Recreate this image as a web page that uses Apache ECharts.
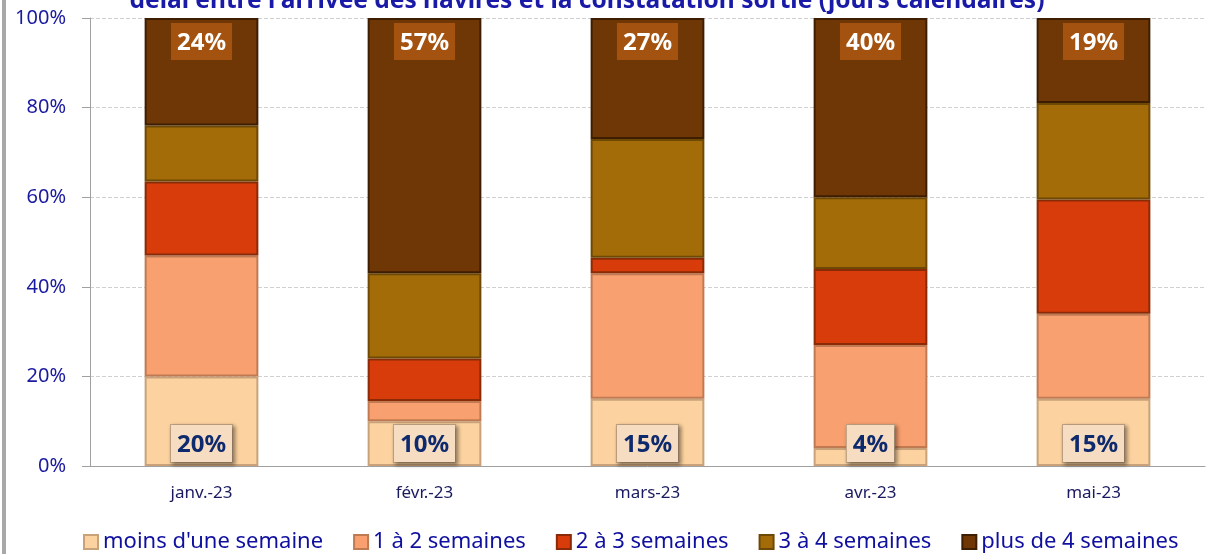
<!DOCTYPE html>
<html>
<head>
<meta charset="utf-8">
<script src="https://cdn.jsdelivr.net/npm/echarts@6/dist/echarts.min.js"></script>
<style>
  html, body { margin: 0; padding: 0; background: #fff; }
  #chart { width: 1208px; height: 554px; }
</style>
</head>
<body>
<div id="chart"></div>
<script>
// mois
var months = ['janv.-23', 'févr.-23', 'mars-23', 'avr.-23', 'mai-23'];
var seriesNames = ['moins d\'une semaine', '1 à 2 semaines', '2 à 3 semaines', '3 à 4 semaines', 'plus de 4 semaines'];
// parts en %
var moinsUneSemaine = [20, 10, 15, 4, 15];
var uneADeux = [27, 4.5, 28, 23, 19];
var deuxATrois = [16.5, 9.5, 3.5, 17, 25.5];
var troisAQuatre = [12.5, 19, 26.5, 16, 21.5];
var plusDeQuatre = [24, 57, 27, 40, 19];
var yTicks = [0, 20, 40, 60, 80, 100];

var colors = ['#FCD3A0', '#F8A070', '#D83C0A', '#A36C08', '#6F3706'];
var borders = ['#C9A27A', '#C07A52', '#8A2A06', '#6E4905', '#3E1E03'];
var allData = [moinsUneSemaine, uneADeux, deuxATrois, troisAQuatre, plusDeQuatre];

var series = [];
for (var i = 0; i < seriesNames.length; i++) {
    var s = {
        name: seriesNames[i],
        type: 'bar',
        stack: 'total',
        barWidth: '51%',
        data: allData[i],
        itemStyle: {
            color: colors[i],
            borderColor: borders[i],
            borderWidth: 2
        },
        label: { show: false }
    };
    if (i === 0) {
        s.label = {
            show: true,
            position: 'insideBottom',
            distance: 4,
            formatter: '{c}%',
            fontFamily: 'Noto Sans',
            fontWeight: 'bold',
            fontSize: 24,
            color: '#0E2A6E',
            backgroundColor: '#F6DCC0',
            borderColor: '#BFA080',
            borderWidth: 1,
            padding: [8, 6, 5, 6],
            shadowColor: 'rgba(0,0,0,0.4)',
            shadowBlur: 4,
            shadowOffsetX: 2,
            shadowOffsetY: 2
        };
    }
    if (i === 4) {
        s.label = {
            show: true,
            position: 'insideTop',
            distance: 5,
            formatter: '{c}%',
            fontFamily: 'Noto Sans',
            fontWeight: 'bold',
            fontSize: 24,
            color: '#FFFFFF',
            backgroundColor: '#A4520F',
            padding: [8, 6, 5, 6]
        };
    }
    series.push(s);
}

var option = {
    animation: false,
    title: {
        text: 'délai entre l\'arrivée des navires et la constatation sortie (jours calendaires)',
        left: 582,
        textAlign: 'center',
        top: -16,
        textStyle: {
            fontFamily: 'Noto Sans',
            fontWeight: 'bold',
            fontSize: 24.5,
            color: '#1A1AA8'
        }
    },
    graphic: [{
        type: 'rect',
        shape: { x: 2, y: 0, width: 4, height: 554 },
        style: { fill: '#A8A8A8' }
    }],
    legend: {
        data: seriesNames,
        bottom: -4,
        left: 78,
        itemWidth: 14,
        itemHeight: 14,
        itemGap: 30,
        icon: 'rect',
        textStyle: {
            fontFamily: 'Noto Sans',
            fontSize: 22,
            color: '#1010A0'
        }
    },
    grid: { left: 90, right: 3, top: 18, bottom: 88 },
    xAxis: {
        type: 'category',
        data: months,
        axisLine: { lineStyle: { color: '#A0A0A0' } },
        axisTick: { show: false },
        axisLabel: {
            fontFamily: 'Noto Sans',
            fontSize: 17,
            color: '#1A1A60',
            margin: 19
        }
    },
    yAxis: {
        type: 'value',
        min: yTicks[0],
        max: yTicks[yTicks.length - 1],
        interval: 20,
        axisLine: { show: true, lineStyle: { color: '#A0A0A0' } },
        axisTick: { show: true, inside: false, length: 8, lineStyle: { color: '#A0A0A0' } },
        splitLine: { lineStyle: { color: '#D0D0D0', type: 'dashed' } },
        axisLabel: {
            formatter: '{value}%',
            fontFamily: 'Noto Sans',
            fontSize: 20,
            color: '#1A1AA0',
            margin: 24
        }
    },
    series: series
};

var myChart = echarts.init(document.getElementById('chart'));
myChart.setOption(option);
</script>
</body>
</html>
